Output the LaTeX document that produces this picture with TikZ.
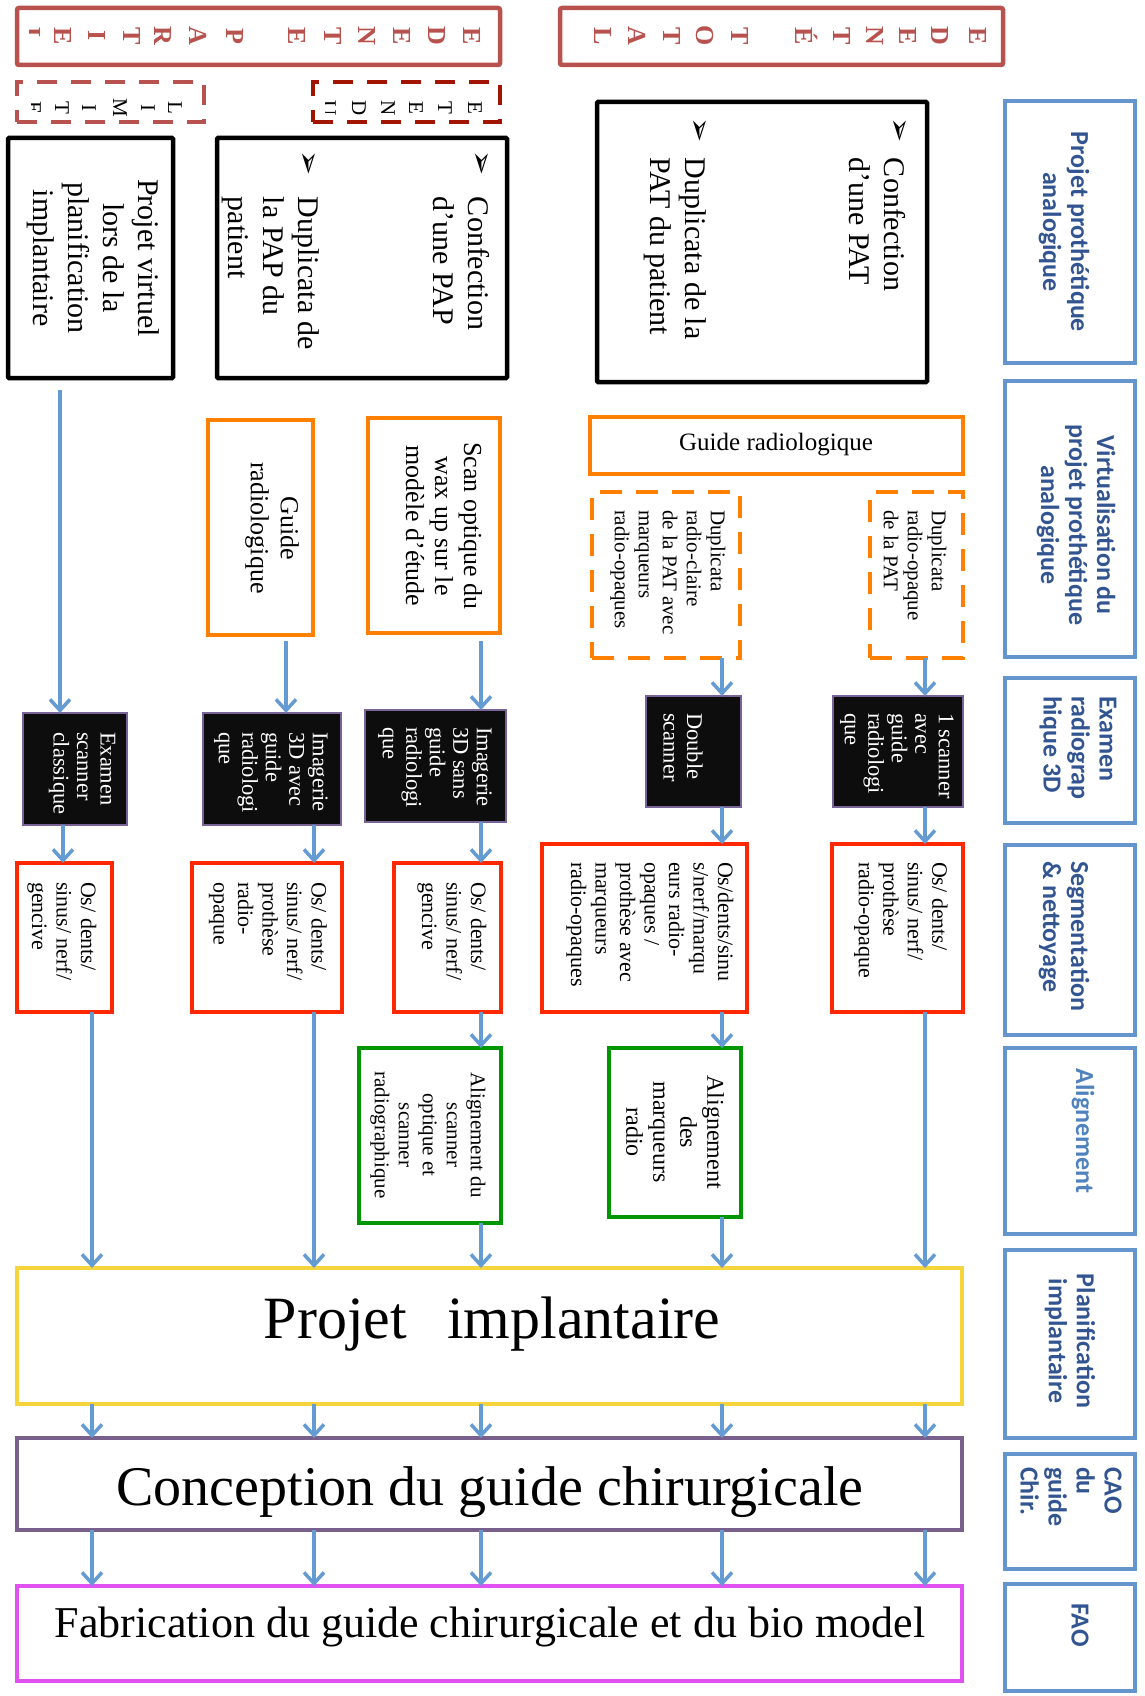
\documentclass[tikz,border=0pt]{standalone}
\usepackage{fontspec}
\setmainfont{Liberation Serif}
\newfontfamily\lblfont{Carlito}
\newfontfamily\symfont{DejaVu Sans}
\usetikzlibrary{arrows.meta}

\definecolor{arrowblue}{RGB}{100,155,210}
\definecolor{lblborder}{RGB}{100,150,205}
\definecolor{lbltext}{RGB}{50,85,145}
\definecolor{lbltextlight}{RGB}{80,130,190}
\definecolor{brick}{RGB}{184,82,78}
\definecolor{darkred}{RGB}{160,20,0}
\definecolor{orng}{RGB}{255,128,0}
\definecolor{redbox}{RGB}{255,40,0}
\definecolor{grn}{RGB}{0,150,0}
\definecolor{yelb}{RGB}{245,212,60}
\definecolor{purp}{RGB}{120,95,140}
\definecolor{pnk}{RGB}{225,80,240}
\definecolor{blkfill}{RGB}{13,13,13}
\definecolor{blkborder}{RGB}{120,100,150}

\newcommand{\bx}[6]{\node[#2, anchor=north west, inner sep=0pt, outer sep=0pt, minimum width={(#5-#3)*1pt}, minimum height={(#6-#4)*1pt}] (#1) at (#3,#4) {};}

\tikzset{
 every node/.style={inner sep=0pt, outer sep=0pt},
 lblbox/.style={draw=lblborder, line width=4.5pt},
 lbltxt/.style={rotate=-90, font=\lblfont\bfseries\fontsize{26}{28}\selectfont, text=lbltext, align=center},
 topbox/.style={draw=brick, line width=4.5pt, rounded corners=2pt},
 topletter/.style={rotate=-90, text=brick, font=\bfseries\fontsize{26}{26}\selectfont},
 smallletter/.style={rotate=-90, font=\fontsize{21}{21}\selectfont},
 limbox/.style={draw=brick, line width=4.5pt, dash pattern=on 20pt off 14pt},
 etbox/.style={draw=darkred, line width=4.5pt, dash pattern=on 20pt off 14pt},
 projbox/.style={draw=black, line width=4.5pt, rounded corners=1pt},
 projtxt/.style={rotate=-90, font=\fontsize{30}{35}\selectfont},
 bulletsym/.style={rotate=-90, font=\symfont\fontsize{30}{30}\selectfont},
 obox/.style={draw=orng, line width=4.5pt},
 odash/.style={draw=orng, line width=4.5pt, dash pattern=on 22pt off 14pt},
 scanbox/.style={draw=blkborder, fill=blkfill, line width=2.5pt},
 scantxt/.style={rotate=-90, text=white, font=\fontsize{22.5}{23.5}\selectfont, align=left, anchor=west},
 rbox/.style={draw=redbox, line width=4.5pt},
 gbox/.style={draw=grn, line width=4.5pt},
 ybox/.style={draw=yelb, line width=4.5pt},
 pbox/.style={draw=purp, line width=4.5pt},
 fbox/.style={draw=pnk, line width=4.5pt},
 segtxt/.style={rotate=-90, font=\fontsize{22}{24.5}\selectfont, align=left, anchor=west},
 dtxt/.style={rotate=-90, font=\fontsize{21}{24}\selectfont, align=left, anchor=west},
 arr/.style={draw=arrowblue, line width=3.5pt, -{Straight Barb[length=11pt,width=20pt]}},
}

\begin{document}
\begin{tikzpicture}[x=1pt,y=-1pt]
\fill[white] (0,0) rectangle (1144,1696);
\useasboundingbox (0,0) rectangle (1144,1696);

% top labels
\bx{tp}{topbox}{17}{8}{500}{65}
\bx{tt}{topbox}{560}{8}{1003}{65}
\bx{lim}{limbox}{17}{82}{204}{122}
\bx{etd}{etbox}{313}{82}{500}{122}
\begin{scope}
\clip (29,10) rectangle (498,63);
\foreach \L/\x [count=\i] in {E/472,D/437,E/402,N/367,T/333,E/297,P/235,A/198,R/163,T/132,I/97,E/63,L/32}
  \node[topletter] (tpl\i) at (\x,36) {\L};
\end{scope}
\foreach \L/\x [count=\i] in {E/978,D/940,E/908,N/875,T/842,É/807,T/740,O/705,T/672,A/637,L/603}
  \node[topletter] (ttl\i) at (\x,36) {\L};
\begin{scope}
\clip (31,84) rectangle (202,120);
\foreach \L/\x [count=\i] in {L/175,I/148,M/120,I/89,T/62,E/34}
  \node[smallletter] (liml\i) at (\x,108) {\L};
\end{scope}
\begin{scope}
\clip (325,84) rectangle (498,120);
\foreach \L/\x [count=\i] in {E/475,T/445,E/416,N/388,D/359,U/329}
  \node[smallletter] (etdl\i) at (\x,108) {\L};
\end{scope}

% analog project boxes
\bx{pv}{projbox}{8}{138}{173}{378}
\bx{pap}{projbox}{217}{138}{507}{378}
\bx{pat}{projbox}{597}{102}{927}{382}
\node[projtxt, align=center] (pvt) at (93,258) {Projet virtuel\\lors de la\\planification\\implantaire};
\node[bulletsym] (papb1) at (480,163) {➢};
\node[projtxt, align=left, anchor=west] (papt1) at (461,197) {Confection\\d’une PAP};
\node[bulletsym] (papb2) at (307,163) {➢};
\node[projtxt, align=left, anchor=west] (papt2) at (271,197) {Duplicata de\\la PAP du\\patient};
\node[bulletsym] (patb1) at (898,130) {➢};
\node[projtxt, align=left, anchor=west] (patt1) at (877,158) {Confection\\d’une PAT};
\node[bulletsym] (patb2) at (698,130) {➢};
\node[projtxt, align=left, anchor=west] (patt2) at (675,158) {Duplicata de la\\PAT du patient};

% virtualisation
\bx{og2}{obox}{208}{420}{313}{635}
\bx{og1}{obox}{368}{418}{500}{633}
\bx{og3}{obox}{590}{417}{963}{474}
\bx{od1}{odash}{592}{492}{740}{658}
\bx{od2}{odash}{870}{492}{963}{658}
\node[rotate=-90, font=\fontsize{26}{29}\selectfont, align=center] (og1t) at (444,526) {Scan optique du\\wax up sur le\\modèle d’étude};
\node[rotate=-90, font=\fontsize{26}{30}\selectfont, align=center] (og2t) at (272,528) {Guide\\radiologique};
\node[font=\fontsize{25}{25}\selectfont] (og3t) at (776,445) {Guide radiologique};
\node[dtxt] (od1t) at (668,510) {Duplicata\\radio-claire\\de la PAT avec\\marqueurs\\radio-opaques};
\node[dtxt] (od2t) at (915,510) {Duplicata\\radio-opaque\\de la PAT};

% scanner row
\bx{ex1}{scanbox}{23}{713}{127}{825}
\bx{ex2}{scanbox}{203}{713}{341}{825}
\bx{ex3}{scanbox}{365}{710}{506}{822}
\bx{ex4}{scanbox}{646}{696}{741}{807}
\bx{ex5}{scanbox}{833}{696}{963}{807}
\node[scantxt] (ex1t) at (82,732) {Examen\\scanner\\classique};
\node[scantxt] (ex2t) at (271,732) {Imagerie\\3D avec\\guide\\radiologi\\que};
\node[scantxt] (ex3t) at (435,727) {Imagerie\\3D sans\\guide\\radiologi\\que};
\node[scantxt] (ex4t) at (683,713) {Double\\scanner};
\node[scantxt] (ex5t) at (897,713) {1 scanner\\avec\\guide\\radiologi\\que};

% segmentation
\bx{r1}{rbox}{17}{863}{112}{1012}
\bx{r2}{rbox}{192}{863}{342}{1012}
\bx{r3}{rbox}{394}{863}{501}{1012}
\bx{r4}{rbox}{542}{844}{747}{1012}
\bx{r5}{rbox}{832}{844}{963}{1012}
\node[segtxt] (r1t) at (62,882) {Os/ dents/\\sinus/ nerf/\\gencive};
\node[segtxt] (r2t) at (268,882) {Os/ dents/\\sinus/ nerf/\\prothèse\\radio-\\opaque};
\node[segtxt] (r3t) at (452,882) {Os/ dents/\\sinus/ nerf/\\gencive};
\node[segtxt] (r4t) at (650,862) {Os/dents/sinu\\s/nerf/marqu\\eurs radio-\\opaques /\\prothèse avec\\marqueurs\\radio-opaques};
\node[segtxt] (r5t) at (901,862) {Os/ dents/\\sinus/ nerf/\\prothèse\\radio-opaque};

% alignment
\bx{g1}{gbox}{359}{1048}{501}{1223}
\bx{g2}{gbox}{609}{1048}{741}{1217}
\node[rotate=-90, align=center, font=\fontsize{21}{24}\selectfont] (g1t) at (428,1135) {Alignement du\\scanner\\optique et\\scanner\\radiographique};
\node[rotate=-90, align=center, font=\fontsize{24}{27}\selectfont] (g2t) at (675,1132) {Alignement\\des\\marqueurs\\radio};

% bottom boxes
\bx{yb}{ybox}{17}{1268}{962}{1404}
\bx{pb}{pbox}{17}{1438}{962}{1530}
\bx{fb}{fbox}{17}{1586}{962}{1681}
\node[font=\fontsize{60}{60}\selectfont] (ybt) at (492,1324) {Projet\hspace{40pt}implantaire};
\node[font=\fontsize{56}{56}\selectfont] (pbt) at (490,1492) {Conception du guide chirurgicale};
\node[font=\fontsize{44}{44}\selectfont] (fbt) at (490,1627) {Fabrication du guide chirurgicale et du bio model};

% right labels
\bx{l1}{lblbox}{1005}{101}{1135}{363}
\bx{l2}{lblbox}{1005}{381}{1135}{657}
\bx{l3}{lblbox}{1005}{678}{1135}{823}
\bx{l4}{lblbox}{1005}{845}{1135}{1035}
\bx{l5}{lblbox}{1005}{1048}{1135}{1234}
\bx{l6}{lblbox}{1005}{1250}{1135}{1438}
\bx{l7}{lblbox}{1005}{1454}{1135}{1569}
\bx{l8}{lblbox}{1005}{1584}{1135}{1691}
\node[lbltxt] (l1t) at (1064,232) {Projet prothétique\\analogique};
\node[lbltxt] (l2t) at (1076,525) {Virtualisation du\\projet prothétique\\analogique};
\node[lbltxt, align=left, anchor=west] (l3t) at (1078,696) {Examen\\radiograp\\hique 3D};
\node[lbltxt, align=left, anchor=west] (l4t) at (1064,861) {Segmentation\\\& nettoyage};
\node[lbltxt, text=lbltextlight] (l5t) at (1083,1131) {Alignement};
\node[lbltxt] (l6t) at (1070,1341) {Planification\\implantaire};
\node[lbltxt, align=left, anchor=west] (l7t) at (1071,1467) {CAO\\du\\guide\\Chir.};
\node[lbltxt] (l8t) at (1080,1625) {FAO};

% connectors
\coordinate (c1a) at (60,0);
\coordinate (c1b) at (63,0);
\coordinate (c1) at (92,0);
\coordinate (c2a) at (286,0);
\coordinate (c2) at (314,0);
\coordinate (c3) at (481,0);
\coordinate (c4) at (722,0);
\coordinate (c5) at (925,0);
\draw[arr, shorten <=12pt] (pv.south -| c1a) -- (ex1.north -| c1a);
\draw[arr] (ex1.south -| c1b) -- (r1.north -| c1b);
\draw[arr] (r1.south -| c1) -- (yb.north -| c1);
\draw[arr, shorten <=6pt] (og2.south -| c2a) -- (ex2.north -| c2a);
\draw[arr] (ex2.south -| c2) -- (r2.north -| c2);
\draw[arr] (r2.south -| c2) -- (yb.north -| c2);
\draw[arr, shorten <=8pt] (og1.south -| c3) -- (ex3.north -| c3);
\draw[arr] (ex3.south -| c3) -- (r3.north -| c3);
\draw[arr] (r3.south -| c3) -- (g1.north -| c3);
\draw[arr] (g1.south -| c3) -- (yb.north -| c3);
\draw[arr] (od1.south -| c4) -- (ex4.north -| c4);
\draw[arr] (ex4.south -| c4) -- (r4.north -| c4);
\draw[arr] (r4.south -| c4) -- (g2.north -| c4);
\draw[arr] (g2.south -| c4) -- (yb.north -| c4);
\draw[arr] (od2.south -| c5) -- (ex5.north -| c5);
\draw[arr] (ex5.south -| c5) -- (r5.north -| c5);
\draw[arr] (r5.south -| c5) -- (yb.north -| c5);
\foreach \c in {c1,c2,c3,c4,c5} {
  \draw[arr] (yb.south -| \c) -- (pb.north -| \c);
  \draw[arr] (pb.south -| \c) -- (fb.north -| \c);
}
\end{tikzpicture}
\end{document}
